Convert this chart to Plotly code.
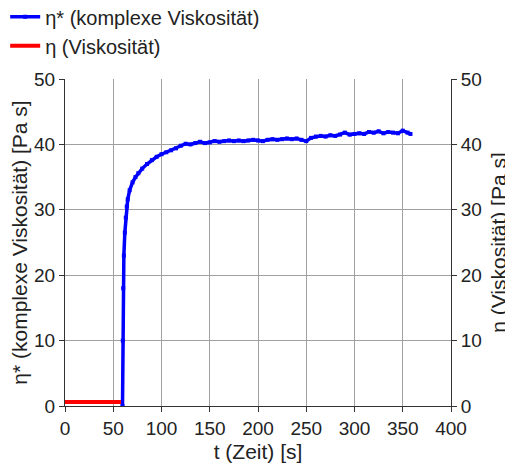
import plotly.graph_objects as go

# eta* (complex viscosity), blue
t_blue = [59.6, 59.9, 60.3, 61, 62, 63, 64, 65, 67, 70, 73, 76, 80, 85, 90, 95, 100,
          105, 110, 115, 120, 125, 130, 135, 140, 145, 150, 155, 160, 165, 170, 175,
          180, 185, 190, 195, 200, 205, 210, 215, 220, 225, 230, 235, 240, 245, 250,
          255, 260, 265, 270, 275, 280, 285, 290, 295, 300, 305, 310, 315, 320, 325,
          330, 335, 340, 345, 350, 355, 358]
eta_star = [0, 10, 18, 23, 26.5, 28.8, 30.5, 31.6, 33.0, 34.2, 35.0, 35.6, 36.3, 37.0, 37.6,
            38.1, 38.5, 38.8, 39.1, 39.4, 39.8, 40.1, 40.0, 40.2, 40.4, 40.2, 40.3, 40.5,
            40.4, 40.5, 40.6, 40.5, 40.6, 40.5, 40.6, 40.7, 40.6, 40.5, 40.7, 40.8, 40.7,
            40.8, 40.9, 40.8, 40.9, 40.7, 40.5, 41.0, 41.2, 41.3, 41.2, 41.4, 41.3, 41.5,
            41.8, 41.5, 41.6, 41.7, 41.6, 41.9, 41.8, 42.0, 41.7, 41.9, 41.8, 41.7, 42.1,
            41.8, 41.6]

# eta (viscosity), red
t_red = [0, 10, 20, 30, 40, 50, 58]
eta = [0.6, 0.6, 0.6, 0.6, 0.6, 0.6, 0.6]

x_ticks = [0, 50, 100, 150, 200, 250, 300, 350, 400]
y_ticks = [0, 10, 20, 30, 40, 50]

font_family = "Liberation Sans, Arial, sans-serif"

fig = go.Figure()
fig.add_trace(go.Scatter(x=t_blue, y=eta_star, mode="lines+markers",
                         line=dict(color="#0000ff", width=3.5),
                         marker=dict(symbol="square", size=4, color="#0000ff"),
                         name="η* (komplexe Viskosität)", yaxis="y"))
fig.add_trace(go.Scatter(x=t_red, y=eta, mode="lines",
                         line=dict(color="#ff0000", width=4),
                         name="η (Viskosität)", yaxis="y2"))

axis_common = dict(showline=True, linecolor="#333333", linewidth=1,
                   ticks="outside", ticklen=5, tickcolor="#333333",
                   tickfont=dict(size=19, color="#222222"),
                   zeroline=False, automargin=False)

# page body has an 8px margin, so the figure is drawn 8px smaller and offset
fig.update_layout(
    width=505, height=458,
    margin=dict(l=57, r=62, t=71, b=60, autoexpand=False),
    paper_bgcolor="white", plot_bgcolor="white",
    font=dict(family=font_family, color="#222222"),
    showlegend=True,
    legend=dict(x=-0.155, y=1.25, xanchor="left", yanchor="top",
                font=dict(size=20, color="#222222"),
                bgcolor="rgba(0,0,0,0)", tracegroupgap=0,
                itemwidth=30),
    xaxis=dict(range=[0, 400], tickvals=x_ticks, showgrid=True,
               gridcolor="#a0a0a0", gridwidth=1,
               title=dict(text="t (Zeit) [s]", font=dict(size=21), standoff=6),
               **axis_common),
    yaxis=dict(range=[0, 50], tickvals=y_ticks, showgrid=True,
               gridcolor="#a0a0a0", gridwidth=1,
               title=dict(text="η* (komplexe Viskosität) [Pa s]", font=dict(size=21),
                          standoff=0),
               **axis_common),
    yaxis2=dict(range=[0, 50], tickvals=y_ticks, overlaying="y", side="right",
                showgrid=False,
                title=dict(text="η (Viskosität) [Pa s]", font=dict(size=21),
                           standoff=10),
                **axis_common),
)

fig.write_html("out.html")
